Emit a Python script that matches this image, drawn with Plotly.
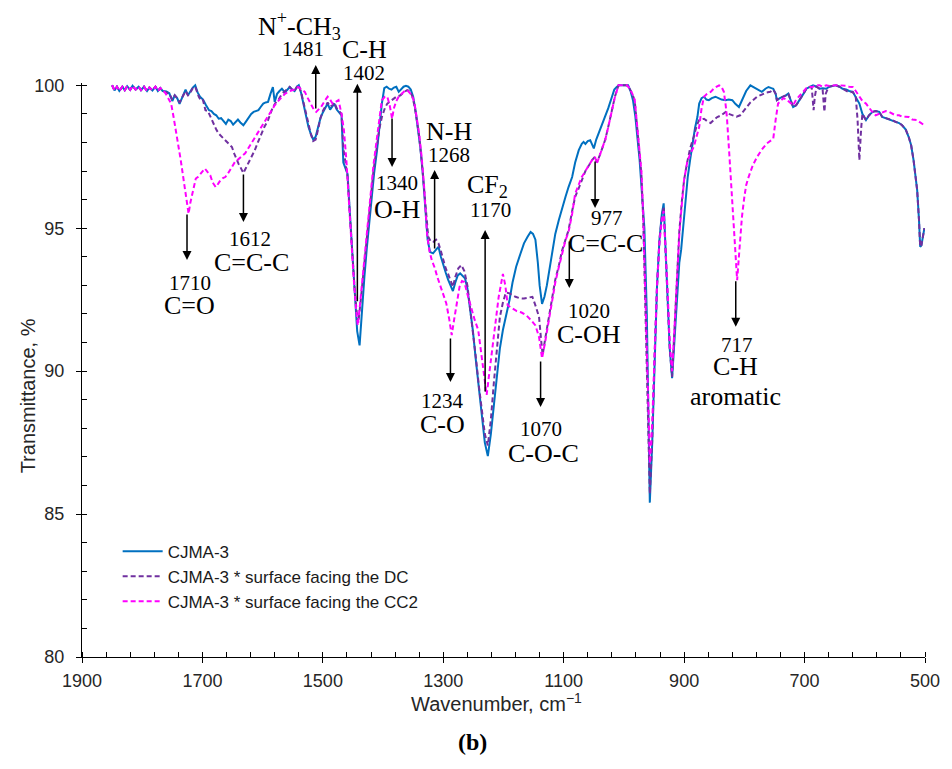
import plotly.graph_objects as go

# ---- FTIR spectra (wavenumber in cm-1, transmittance in %) ----
wn_base = [1850, 1846, 1842, 1838, 1833, 1829, 1825, 1820, 1816, 1811, 1806, 1802, 1797,
           1792, 1788, 1783, 1778, 1774, 1770]
t_base = [100, 99.82, 99.95, 99.8, 99.95, 99.83, 99.97, 99.84, 99.98, 99.85, 99.95, 99.83,
          99.95, 99.8, 99.92, 99.82, 99.95, 99.8, 99.9]

wn_blue = wn_base + [
    1766, 1760, 1755, 1750, 1746, 1742, 1738, 1733, 1728, 1724, 1720, 1716, 1712, 1708, 1704,
    1699, 1694, 1689, 1685, 1681, 1677, 1673, 1669, 1665, 1661, 1657, 1653, 1649, 1645, 1641,
    1637, 1632, 1628, 1624, 1619, 1615, 1611, 1607, 1603, 1599, 1595, 1591, 1587, 1583, 1580,
    1576, 1572, 1568, 1563, 1559, 1555, 1551, 1547, 1543, 1540, 1536, 1532, 1528, 1524, 1520,
    1516, 1512, 1508, 1504, 1500, 1496, 1492, 1488, 1484, 1481, 1477, 1473, 1469, 1466, 1462,
    1459, 1455, 1451, 1447, 1443, 1439, 1435, 1431, 1427, 1423, 1419, 1415, 1410, 1406, 1402,
    1398, 1394, 1390, 1386, 1382, 1378, 1374, 1370, 1366, 1362, 1358, 1354, 1350, 1346, 1342,
    1338, 1334, 1330, 1326, 1322, 1317, 1312, 1308, 1304, 1300, 1296, 1292, 1288, 1284, 1280,
    1276, 1272, 1268, 1264, 1260, 1256, 1251, 1246, 1241, 1236, 1231, 1226, 1221, 1216, 1211,
    1206, 1201, 1195, 1190, 1185, 1179, 1172, 1166, 1160, 1155, 1151, 1147, 1143, 1140, 1136,
    1132, 1128, 1125, 1120, 1114, 1108, 1103, 1097, 1092, 1086, 1081, 1075, 1070, 1067, 1064,
    1060, 1056, 1053, 1050, 1046, 1042, 1037, 1031, 1026, 1020, 1016, 1012, 1008, 1004, 1000,
    996, 993, 989, 985, 981, 977, 974, 970, 966, 962, 959, 957, 953, 949, 945, 941, 937, 934,
    931, 927, 924, 920, 916, 912, 908, 905, 900, 894, 890, 886, 882, 878, 875, 871, 867, 863,
    859, 854, 848, 843, 838, 831, 826, 820, 815, 809, 803, 797, 790, 785, 778, 771, 765, 760,
    755, 752, 748, 746, 741, 735, 731, 727, 723, 719, 714, 708, 702, 697, 691, 686, 680, 675,
    670, 664, 659, 653, 648, 642, 637, 631, 626, 620, 615, 609, 604, 598, 593, 587, 582, 576,
    571, 565, 560, 554, 549, 543, 538, 532, 527, 523, 519, 516, 513, 510, 508, 506, 504, 501]
t_blue = t_base + [
    99.8, 99.78, 99.72, 99.45, 99.65, 99.55, 99.35, 99.6, 99.85, 99.65, 99.8, 99.92, 100, 99.75,
    99.6, 99.5, 99.3, 99.13, 99.1, 99.0, 98.95, 98.83, 98.85, 98.75, 98.65, 98.8, 98.75, 98.62,
    98.72, 98.8, 98.7, 98.6, 98.72, 98.85, 99.0, 99.07, 99.1, 99.13, 99.25, 99.36, 99.4, 99.42,
    99.7, 99.94, 99.42, 99.7, 99.8, 99.88, 99.75, 99.85, 99.94, 99.85, 99.8, 99.95, 100, 99.72,
    99.3, 98.9, 98.55, 98.3, 98.1, 98.2, 98.5, 98.85, 99.05, 99.2, 99.36, 99.15, 99.25, 99.36,
    99.15, 99.05, 98.95, 97.3, 97.09, 96.9, 95.5, 94.0, 92.6, 91.4, 90.9, 92.2, 93.3, 94.3,
    95.2, 95.9, 96.9, 97.73, 98.6, 99.36, 99.9, 99.95, 99.88, 99.85, 99.92, 99.95, 99.77,
    99.85, 99.95, 99.98, 99.95, 99.85, 99.6, 99.1, 98.5, 97.8, 96.9, 95.8, 94.6, 94.17, 94.12,
    94.25, 94.35, 94.0, 93.7, 93.45, 93.2, 93.0, 92.8, 93.1, 93.35, 93.42, 93.35, 93.25, 92.9,
    92.3, 91.44, 90.4, 89.4, 88.4, 87.5, 87.03, 87.8, 88.8, 89.8, 90.8, 91.44, 92.0, 92.49,
    93.1, 93.65, 94.1, 94.47, 94.7, 94.87, 94.8, 94.6, 93.8, 93.0, 92.35, 92.6, 93.0, 93.4,
    94.0, 94.8, 95.3, 95.7, 96.1, 96.44, 96.79, 97.3, 97.73, 97.95, 98.02, 97.95, 98.05, 98.08,
    97.95, 97.79, 98.1, 98.31, 98.6, 98.89, 99.2, 99.59, 99.85, 99.94, 100, 100, 100, 100, 100,
    99.8, 99.48, 98.9, 98.0, 97.4, 96.2, 95.0, 92.0, 88.5, 85.4, 87.5, 90.5, 93.0, 94.6, 95.5,
    95.87, 94.5, 92.5, 90.8, 89.75, 91.2, 92.8, 93.8, 94.24, 95.5, 96.8, 97.4, 97.97, 98.5,
    98.89, 99.36, 99.55, 99.6, 99.5, 99.48, 99.55, 99.6, 99.55, 99.5, 99.48, 99.5, 99.48, 99.35,
    99.24, 99.5, 99.8, 100, 99.94, 99.85, 99.77, 99.88, 99.94, 99.9, 99.88, 99.7, 99.48, 99.55,
    99.6, 99.65, 99.71, 99.5, 99.24, 99.3, 99.48, 99.7, 99.88, 99.95, 100, 99.95, 99.88, 99.9,
    99.88, 99.95, 99.98, 100, 99.95, 99.88, 99.85, 99.8, 99.77, 99.6, 99.36, 99.0, 98.78, 98.95,
    99.07, 99.1, 99.07, 98.89, 98.85, 98.82, 98.78, 98.72, 98.68, 98.6, 98.45, 98.19, 97.9,
    97.38, 96.9, 96.33, 95.3, 94.35, 94.4, 94.7, 95.0]

wn_dc = wn_base + [
    1766, 1760, 1755, 1750, 1746, 1742, 1738, 1733, 1728, 1724, 1720, 1716, 1712, 1706, 1702,
    1699, 1695, 1691, 1689, 1685, 1681, 1677, 1673, 1668, 1662, 1656, 1651, 1647, 1643, 1640,
    1637, 1632, 1628, 1624, 1619, 1613, 1608, 1602, 1597, 1591, 1587, 1583, 1578, 1574, 1568,
    1563, 1559, 1555, 1551, 1547, 1543, 1540, 1536, 1532, 1528, 1524, 1520, 1516, 1512, 1508,
    1504, 1500, 1496, 1492, 1488, 1484, 1481, 1477, 1473, 1469, 1466, 1462, 1459, 1455, 1451,
    1447, 1443, 1441, 1437, 1433, 1429, 1425, 1421, 1416, 1410, 1406, 1402, 1397, 1393, 1388,
    1383, 1378, 1371, 1366, 1360, 1356, 1352, 1348, 1344, 1340, 1336, 1332, 1328, 1325, 1321,
    1317, 1312, 1308, 1304, 1300, 1296, 1292, 1288, 1284, 1280, 1275, 1270, 1265, 1260, 1256,
    1251, 1246, 1241, 1236, 1231, 1226, 1221, 1216, 1211, 1206, 1201, 1196, 1190, 1185, 1180,
    1173, 1166, 1159, 1152, 1147, 1141, 1138, 1135, 1131, 1125, 1119, 1114, 1108, 1103, 1097,
    1092, 1086, 1081, 1075, 1070, 1064, 1058, 1053, 1048, 1045, 1041, 1037, 1031, 1026, 1020,
    1015, 1009, 1004, 1000, 995, 991, 986, 982, 978, 974, 971, 968, 965, 962, 959, 957, 953,
    949, 945, 941, 937, 934, 931, 927, 924, 920, 916, 912, 908, 904, 900, 895, 890, 884, 879,
    875, 871, 867, 862, 856, 850, 845, 838, 831, 826, 820, 813, 807, 802, 796, 790, 785, 779,
    774, 768, 763, 757, 752, 748, 746, 741, 735, 731, 727, 723, 719, 714, 708, 702, 697, 691,
    688, 686, 685, 683, 680, 675, 670, 668, 667, 665, 660, 653, 648, 642, 637, 631, 626, 620,
    615, 612, 609, 606, 604, 598, 593, 587, 582, 576, 571, 565, 560, 554, 549, 543, 538, 532,
    527, 523, 519, 516, 513, 510, 508, 506, 504, 501]
t_dc = t_base + [
    99.8, 99.75, 99.7, 99.5, 99.65, 99.55, 99.4, 99.6, 99.8, 99.65, 99.75, 99.9, 99.95, 99.6,
    99.45, 99.48, 99.13, 99.1, 99.01, 98.8, 98.6, 98.45, 98.31, 98.2, 98.08, 97.95, 97.84,
    97.6, 97.38, 97.25, 97.14, 96.93, 97.1, 97.26, 97.5, 97.73, 98.0, 98.31, 98.55, 98.78,
    99.0, 99.24, 99.4, 99.48, 99.7, 99.8, 99.85, 99.94, 99.85, 99.8, 99.95, 100, 99.75, 99.4,
    98.95, 98.6, 98.3, 98.05, 98.1, 98.45, 98.85, 99.1, 99.25, 99.4, 99.25, 99.3, 99.4, 99.2,
    99.1, 99.0, 97.8, 97.2, 96.8, 95.4, 94.0, 92.8, 91.9, 91.7, 92.5, 93.4, 94.3, 95.2, 96.0,
    97.0, 97.9, 98.5, 98.89, 99.2, 99.36, 99.45, 99.53, 99.6, 99.65, 99.75, 99.83, 99.8,
    99.65, 99.3, 98.8, 98.2, 97.4, 96.4, 95.3, 94.7, 94.55, 94.52, 94.6, 94.47, 94.2, 93.9,
    93.6, 93.4, 93.2, 92.95, 93.3, 93.6, 93.71, 93.5, 93.0, 92.3, 91.5, 90.5, 89.5, 88.6, 87.8,
    87.4, 88.3, 89.6, 90.8, 91.9, 92.4, 92.75, 92.72, 92.65, 92.6, 92.55, 92.54, 92.57, 92.6,
    92.3, 91.9, 91.2, 90.56, 91.1, 91.9, 92.7, 93.2, 93.7, 94.2, 94.6, 94.93, 95.6, 96.1, 96.4,
    96.7, 97.0, 97.2, 97.38, 97.5, 97.3, 97.5, 97.75, 98.1, 98.55, 99.1, 99.6, 100, 100, 100,
    100, 99.9, 99.7, 99.45, 98.6, 97.7, 96.9, 95.3, 93.0, 90.2, 87.5, 85.7, 87.6, 90.6, 93.0,
    94.6, 95.4, 95.75, 94.4, 92.5, 90.8, 89.8, 91.5, 93.4, 94.9, 95.9, 96.7, 97.3, 97.8, 98.2,
    98.6, 98.78, 98.8, 98.83, 98.75, 98.68, 98.8, 98.89, 98.95, 99.07, 99.0, 98.95, 98.9,
    98.95, 99.1, 99.24, 99.4, 99.5, 99.6, 99.65, 99.7, 99.75, 99.77, 99.85, 99.7, 99.48, 99.55,
    99.6, 99.65, 99.71, 99.5, 99.24, 99.3, 99.48, 99.7, 99.88, 99.95, 99.9, 99.5, 99.13, 99.6,
    99.95, 99.88, 99.85, 99.3, 99.07, 99.7, 99.95, 99.98, 100, 99.95, 99.88, 99.8, 99.75, 99.77,
    99.6, 98.8, 97.38, 98.5, 99.0, 98.78, 98.95, 99.07, 99.1, 99.07, 98.89, 98.85, 98.82, 98.78,
    98.72, 98.68, 98.6, 98.45, 98.19, 97.9, 97.38, 96.9, 96.33, 95.3, 94.35, 94.4, 94.7, 95.0]

wn_cc2 = wn_base + [
    1766, 1761, 1756, 1752, 1748, 1744, 1740, 1736, 1732, 1729, 1726, 1723, 1720, 1718, 1714,
    1711, 1707, 1703, 1699, 1696, 1691, 1687, 1683, 1678, 1674, 1670, 1666, 1662, 1658, 1654,
    1650, 1646, 1641, 1637, 1633, 1629, 1621, 1613, 1604, 1596, 1588, 1580, 1572, 1563, 1555,
    1547, 1541, 1536, 1530, 1525, 1520, 1515, 1511, 1507, 1503, 1497, 1492, 1488, 1484, 1480,
    1474, 1469, 1465, 1461, 1457, 1453, 1449, 1445, 1442, 1438, 1434, 1430, 1426, 1421, 1416,
    1410, 1406, 1402, 1397, 1393, 1389, 1385, 1382, 1378, 1374, 1369, 1364, 1360, 1356, 1352,
    1348, 1344, 1340, 1336, 1332, 1327, 1323, 1319, 1314, 1310, 1305, 1300, 1295, 1290, 1286,
    1282, 1277, 1273, 1269, 1265, 1260, 1254, 1248, 1242, 1235, 1228, 1222, 1215, 1208, 1201,
    1197, 1193, 1186, 1178, 1170, 1162, 1155, 1147, 1141, 1136, 1131, 1125, 1119, 1114, 1108,
    1103, 1097, 1092, 1086, 1081, 1075, 1070, 1064, 1058, 1053, 1048, 1045, 1041, 1037, 1031,
    1026, 1020, 1015, 1009, 1004, 1000, 995, 991, 986, 982, 978, 974, 971, 968, 965, 962, 959,
    957, 953, 949, 945, 941, 937, 934, 931, 927, 924, 920, 916, 912, 908, 904, 900, 895, 890,
    884, 879, 875, 871, 867, 862, 856, 850, 846, 842, 838, 834, 831, 829, 825, 820, 816, 812,
    808, 804, 800, 797, 793, 786, 779, 771, 763, 757, 752, 748, 744, 740, 735, 730, 725, 719,
    714, 708, 702, 697, 691, 686, 680, 675, 670, 664, 659, 653, 648, 642, 637, 631, 626, 620,
    615, 609, 604, 598, 593, 587, 582, 576, 571, 565, 560, 554, 549, 543, 538, 532, 527, 521,
    516, 513, 508, 504, 501]
t_cc2 = t_base + [
    99.85, 99.71, 99.5, 99.36, 98.9, 98.43, 97.9, 97.38, 96.8, 96.33, 95.9, 95.51, 95.9, 96.1,
    96.5, 96.74, 96.8, 96.91, 97.0, 97.09, 96.95, 96.85, 96.6, 96.44, 96.55, 96.68, 96.75,
    96.79, 96.9, 97.03, 97.2, 97.32, 97.4, 97.49, 97.55, 97.62, 97.9, 98.19, 98.5, 98.78,
    99.05, 99.3, 99.5, 99.7, 99.8, 99.85, 99.94, 99.85, 99.77, 99.55, 99.36, 99.15, 99.07,
    99.15, 99.24, 99.45, 99.6, 99.5, 99.36, 99.4, 99.48, 99.0, 98.43, 97.4, 96.0, 94.5, 93.3,
    92.2, 91.6, 92.4, 93.3, 94.2, 95.2, 96.1, 97.2, 98.19, 98.9, 99.48, 99.6, 99.6, 99.3,
    98.83, 99.2, 99.45, 99.6, 99.7, 99.8, 99.83, 99.75, 99.65, 99.4, 98.9, 98.3, 97.5, 96.5,
    94.81, 94.2, 93.88, 93.6, 93.3, 93.0, 92.72, 92.37, 91.8, 91.26, 91.8, 92.5, 92.95, 93.15,
    93.12, 92.7, 92.2, 91.8, 91.44, 90.3, 89.17, 90.2, 91.44, 92.6, 93.4, 93.0, 92.3, 92.2,
    92.1, 92.05, 91.95, 91.8, 91.6, 91.2, 90.45, 91.0, 91.8, 92.6, 93.1, 93.65, 94.1, 94.58,
    94.87, 95.5, 96.21, 96.5, 96.79, 97.0, 97.2, 97.38, 97.49, 97.26, 97.5, 97.73, 98.1, 98.54,
    99.1, 99.59, 100, 100, 100, 100, 99.9, 99.7, 99.48, 98.6, 97.73, 97.0, 95.5, 93.5, 90.8,
    88.5, 86.77, 88.2, 90.8, 93.0, 94.5, 95.3, 95.6, 94.4, 92.6, 91.0, 90.0, 91.5, 93.3, 94.8,
    95.8, 96.7, 97.3, 97.6, 97.85, 98.2, 98.54, 99.2, 99.6, 99.7, 99.77, 99.9, 99.95, 100,
    99.95, 99.77, 99.3, 98.89, 97.6, 95.98, 94.5, 93.18, 94.3, 95.4, 96.1, 96.5, 96.79, 97.2,
    97.49, 97.75, 97.96, 98.05, 98.13, 98.8, 99.36, 99.45, 99.55, 99.5, 99.4, 99.3, 99.5,
    99.65, 99.8, 99.9, 99.94, 99.95, 100, 100, 99.95, 100, 99.98, 100, 100, 100, 100, 99.98,
    99.95, 99.94, 99.8, 99.6, 99.45, 99.36, 99.2, 99.05, 98.95, 99.0, 99.05, 99.1, 99.07,
    99.0, 98.95, 98.95, 98.9, 98.9, 98.89, 98.8, 98.8, 98.78, 98.7, 98.65, 98.6]

series_names = ["CJMA-3", "CJMA-3 * surface facing the DC", "CJMA-3 * surface facing the CC2"]
series_colors = ["#0070C0", "#7030A0", "#FF00FF"]

# ---- Band assignments ----
# arrows: (head wavenumber, head position, y reference, tail offset in px)
band_arrows = [
    (1725.6, 93.89, "y", -47), (1631.9, 95.22, "y", -49), (1511.8, 1.0314, "paper", 45),
    (1442.7, 100.05, "y", 219), (1385.1, 97.14, "y", -50), (1314.4, 97.04, "y", 80),
    (1288.1, 89.62, "y", -45), (1230.5, 94.94, "y", 163), (1138.4, 88.75, "y", -47),
    (1090.7, 92.91, "y", -48), (1047.9, 95.71, "y", -48), (814.3, 91.55, "y", -47),
]
# band positions (cm-1) written next to the arrows
band_numbers = [
    ("1710", 1720.7, 93.09, "y"), ("1612", 1620.3, 94.62, "y"), ("1481", 1533.2, 1.0592, "paper"),
    ("1402", 1431.2, 1.0174, "paper"), ("1340", 1376.9, 96.58, "y"), ("1268", 1289.7, 97.56, "y"),
    ("1170", 1222.2, 95.64, "y"), ("977", 1028.1, 95.36, "y"), ("1020", 1057.8, 92.11, "y"),
    ("1234", 1301.2, 88.96, "y"), ("1070", 1138.4, 87.98, "y"), ("717", 812.7, 90.92, "y"),
]
# functional-group names
band_groups = [
    ("C=O", 1722.3, 92.28, "y"), ("C=C-C", 1618.7, 93.79, "y"),
    ("N<sup>+</sup>-CH<sub>3</sub>", 1538.1, 1.0993, "paper"), ("C-H", 1431.2, 1.0592, "paper"),
    ("O-H", 1376.9, 95.64, "y"), ("N-H", 1291.3, 98.40, "y"), ("CF<sub>2</sub>", 1227.2, 96.48, "y"),
    ("C=C-C", 1029.8, 94.48, "y"), ("C-OH", 1057.8, 91.27, "y"), ("C-O", 1301.2, 88.12, "y"),
    ("C-O-C", 1133.4, 87.11, "y"), ("C-H", 814.3, 90.15, "y"), ("aromatic", 814.3, 89.13, "y"),
]

SANS = "Liberation Sans, Arial, sans-serif"
SERIF = "Liberation Serif, Times New Roman, serif"
INK = "#262626"

fig = go.Figure()
for wn, t, name, col, dash in zip([wn_blue, wn_dc, wn_cc2], [t_blue, t_dc, t_cc2],
                                  series_names, series_colors, ["solid", "5px,3px", "5px,3px"]):
    fig.add_trace(go.Scatter(x=wn, y=t, mode="lines", name=name,
                             line=dict(color=col, width=2, dash=dash)))

# helper trace for the overlay axes that draw the inner half of the major ticks
fig.add_trace(go.Scatter(x=[None], y=[None], xaxis="x2", yaxis="y2", showlegend=False,
                         hoverinfo="skip"))

ann = []
for x, y, yref, ay in band_arrows:
    ann.append(dict(x=x, y=y, xref="x", yref=yref, ax=0, ay=ay, text="", showarrow=True,
                    arrowhead=2, arrowsize=1.2, arrowwidth=1.5, arrowcolor="black"))
for txt, x, y, yref in band_numbers:
    ann.append(dict(x=x, y=y, xref="x", yref=yref, text=txt, showarrow=False,
                    xanchor="center", yanchor="middle",
                    font=dict(family=SERIF, size=21, color="black")))
for txt, x, y, yref in band_groups:
    ann.append(dict(x=x, y=y, xref="x", yref=yref, text=txt, showarrow=False,
                    xanchor="center", yanchor="middle",
                    font=dict(family=SERIF, size=26, color="black")))
# axis titles and panel letter
ann.append(dict(x=0.492, y=-0.080, xref="paper", yref="paper", text="Wavenumber, cm<sup>−1</sup>",
                xanchor="center", yanchor="middle", showarrow=False,
                font=dict(family=SANS, size=20, color=INK)))
ann.append(dict(x=-0.0646, y=0.455, xref="paper", yref="paper", text="Transmittance, %",
                xanchor="center", yanchor="middle", textangle=-90, showarrow=False,
                font=dict(family=SANS, size=20, color=INK)))
ann.append(dict(x=0.4632, y=-0.148, xref="paper", yref="paper", text="<b>(b)</b>",
                xanchor="center", yanchor="middle", showarrow=False,
                font=dict(family=SERIF, size=24, color="black")))

axis_common = dict(showgrid=False, zeroline=False, tickcolor="black", tickwidth=1.3, ticklen=5,
                   tickfont=dict(family=SANS, size=18, color=INK))
fig.update_layout(
    width=952, height=769,
    margin=dict(l=82, r=19, t=83, b=112),
    paper_bgcolor="white", plot_bgcolor="white",
    xaxis=dict(range=[1900, 500], tickmode="linear", tick0=500, dtick=200, ticks="outside",
               showline=True, linecolor="black", linewidth=1.3, ticklabelstandoff=2,
               minor=dict(dtick=40, tick0=500, ticks="inside", ticklen=5, tickwidth=1.3,
                          tickcolor="black"),
               **axis_common),
    yaxis=dict(range=[80, 100.08], tickmode="array", tickvals=[80, 85, 90, 95, 100],
               ticks="outside", showline=True, linecolor="black", linewidth=1.3,
               ticklabelstandoff=8,
               minor=dict(dtick=1, tick0=80, ticks="inside", ticklen=5, tickwidth=1.3,
                          tickcolor="black"),
               **axis_common),
    xaxis2=dict(overlaying="x", anchor="y", side="bottom", range=[1900, 500], tickmode="linear",
                tick0=500, dtick=200, ticks="inside", showticklabels=False, showline=False,
                showgrid=False, zeroline=False, ticklen=5, tickwidth=1.3, tickcolor="black"),
    yaxis2=dict(overlaying="y", anchor="x", side="left", range=[80, 100.08], tickmode="array",
                tickvals=[80, 85, 90, 95, 100], ticks="inside", showticklabels=False,
                showline=False, showgrid=False, zeroline=False, ticklen=5, tickwidth=1.3,
                tickcolor="black"),
    legend=dict(x=0.0423, y=0.215, xanchor="left", yanchor="top", bgcolor="rgba(0,0,0,0)",
                font=dict(family=SANS, size=17, color="#1a1a1a"), itemwidth=40,
                tracegroupgap=0),
    annotations=ann,
    showlegend=True,
)

fig.write_html("out.html")
